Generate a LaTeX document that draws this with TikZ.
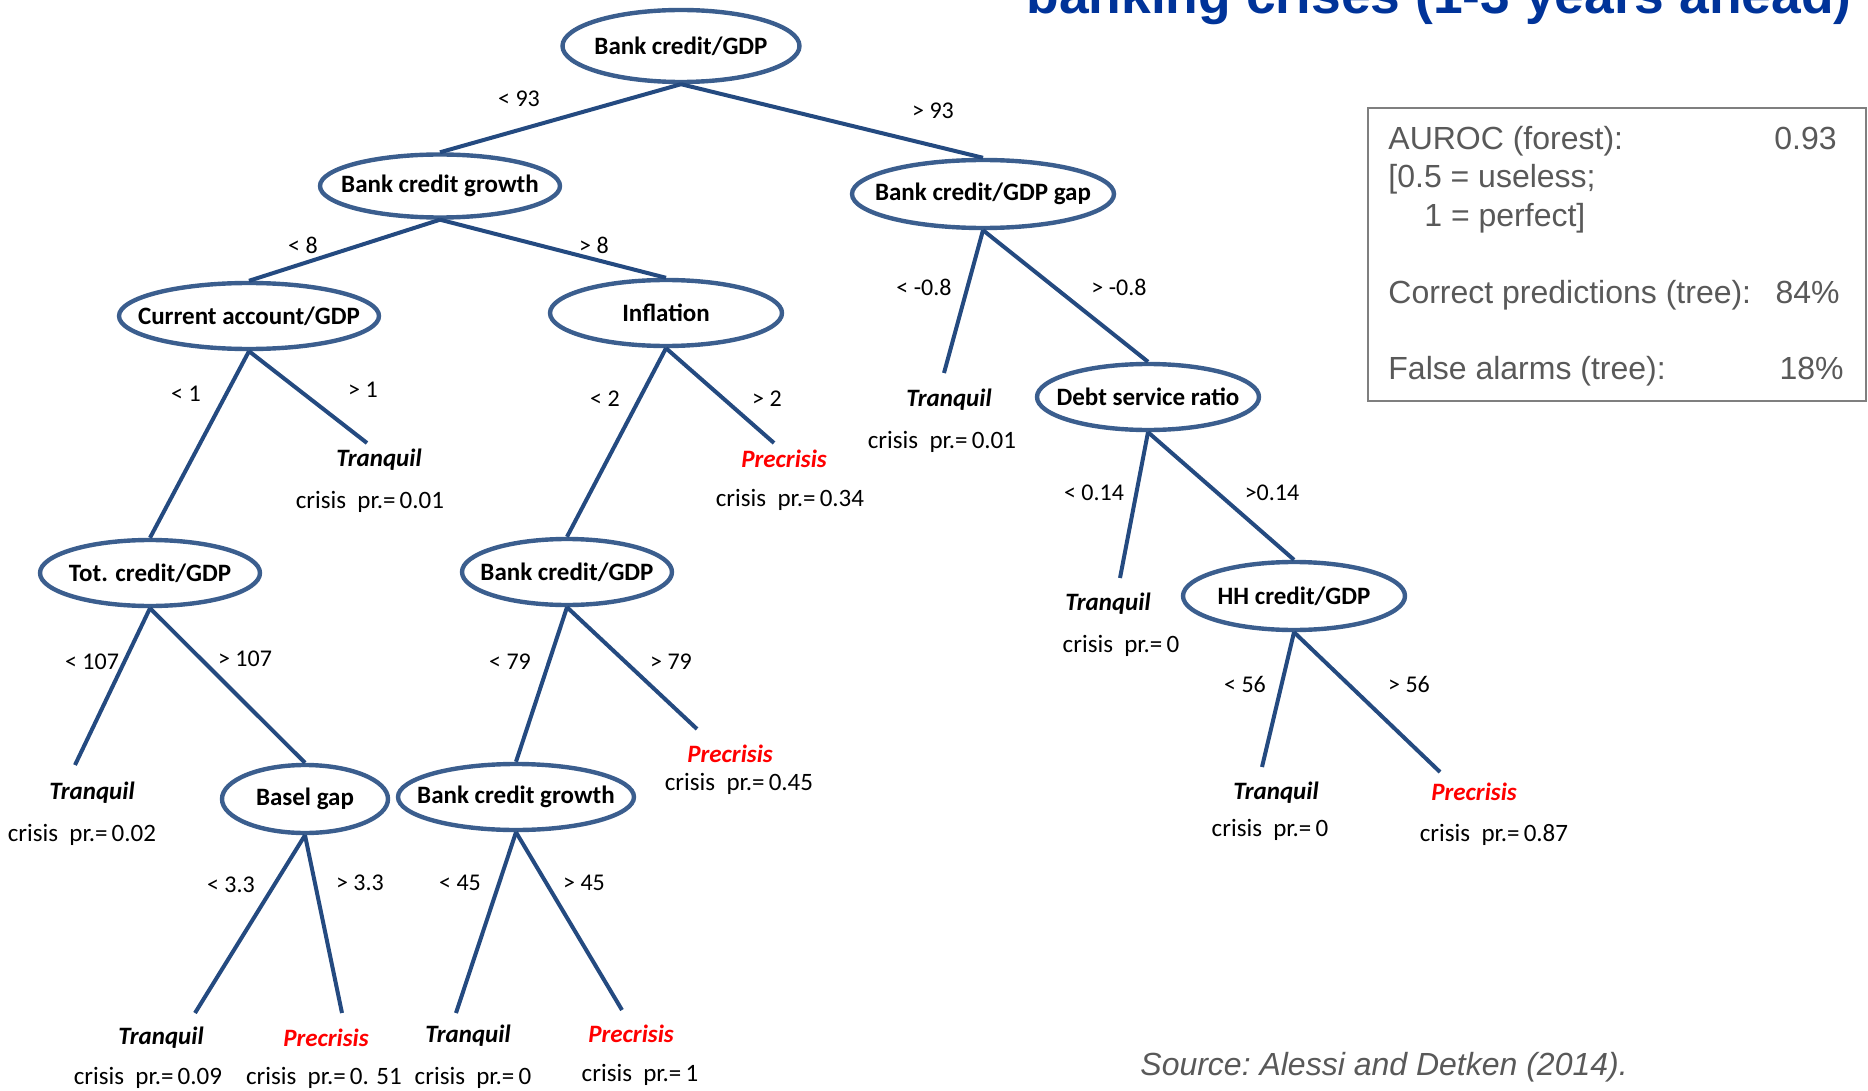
\documentclass[tikz,border=0pt]{standalone}
\usepackage{fontspec}
\setmainfont{Carlito}
\newfontfamily\arialfont{Liberation Sans}
\usetikzlibrary{shapes.geometric}
\definecolor{edgeblue}{HTML}{244A80}
\definecolor{ellblue}{HTML}{3B5E8E}
\definecolor{titleblue}{HTML}{003399}
\definecolor{boxgray}{HTML}{595959}
\definecolor{framegray}{HTML}{7F7F7F}
\newcommand{\zb}[1]{\makebox[0pt]{#1}}
\begin{document}
\begin{tikzpicture}[x=0.5pt,y=-0.5pt,
  var/.style={ellipse, draw=ellblue, line width=2.2pt, inner sep=0pt, font=\fontsize{12.5}{14}\selectfont\bfseries},
  br/.style={draw=edgeblue, line width=2pt},
  cond/.style={font=\fontsize{12}{14}\selectfont, inner sep=0pt},
  tq/.style={font=\fontsize{12.5}{14}\selectfont\bfseries\itshape, inner sep=0pt},
  pc/.style={tq, text=red},
  prob/.style={font=\fontsize{12.5}{14}\selectfont, inner sep=0pt},
  info/.style={font=\arialfont\fontsize{16}{19}\selectfont, text=boxgray, inner sep=0pt}
]
\useasboundingbox (0,0) rectangle (1868,1091);

% title (clipped at top)
\node[anchor=base east, inner sep=0pt, font=\arialfont\bfseries\fontsize{26.7}{30}\selectfont, text=titleblue] (title) at (1852,14) {banking crises (1-3 years ahead)};

% variable nodes
\node[var, minimum width=118.5pt, minimum height=36pt] (root) at (681,46) {\zb{Bank credit/GDP}};
\node[var, minimum width=120pt, minimum height=31.5pt] (bcg2) at (440,186) {\zb{Bank credit growth}};
\node[var, minimum width=131pt, minimum height=34pt] (gap) at (983,194) {\zb{Bank credit/GDP gap}};
\node[var, minimum width=130pt, minimum height=33pt] (ca) at (249,316) {\zb{Current account/GDP}};
\node[var, minimum width=116pt, minimum height=33pt] (infl) at (666,313) {\zb{Inflation}};
\node[var, minimum width=111pt, minimum height=33pt] (dsr) at (1148,397) {\zb{Debt service ratio}};
\node[var, minimum width=111pt, minimum height=34pt] (hh) at (1294,596) {\zb{HH credit/GDP}};
\node[var, minimum width=110pt, minimum height=33pt] (tot) at (150,573) {\zb{Tot. credit/GDP}};
\node[var, minimum width=105pt, minimum height=33pt] (bcgdp4) at (567,572) {\zb{Bank credit/GDP}};
\node[var, minimum width=83pt, minimum height=34pt] (basel) at (305,799) {\zb{Basel gap}};
\node[var, minimum width=118pt, minimum height=33pt] (bcg5) at (516,797) {\zb{Bank credit growth}};

% leaf end points
\coordinate (eCA) at (367,443);
\coordinate (eIN) at (774,443);
\coordinate (eGP) at (944,373);
\coordinate (eDS) at (1120,578);
\coordinate (eHa) at (1262,767);
\coordinate (eHb) at (1440,772);
\coordinate (eTO) at (75,765);
\coordinate (eBG) at (697,729);
\coordinate (eBa) at (195,1013);
\coordinate (eBb) at (342,1013);
\coordinate (eCa) at (456,1013);
\coordinate (eCb) at (622,1010);

% branches
\draw[br] (root.south) -- (bcg2.north);
\draw[br] (root.south) -- (gap.north);
\draw[br] (bcg2.south) -- (ca.north);
\draw[br] (bcg2.south) -- (infl.north);
\draw[br] (gap.south) -- (eGP);
\draw[br] (gap.south) -- (dsr.north);
\draw[br] (ca.south) -- (tot.north);
\draw[br] (ca.south) -- (eCA);
\draw[br] (infl.south) -- (bcgdp4.north);
\draw[br] (infl.south) -- (eIN);
\draw[br] (dsr.south) -- (eDS);
\draw[br] (dsr.south) -- (hh.north);
\draw[br] (hh.south) -- (eHa);
\draw[br] (hh.south) -- (eHb);
\draw[br] (tot.south) -- (eTO);
\draw[br] (tot.south) -- (basel.north);
\draw[br] (bcgdp4.south) -- (bcg5.north);
\draw[br] (bcgdp4.south) -- (eBG);
\draw[br] (basel.south) -- (eBa);
\draw[br] (basel.south) -- (eBb);
\draw[br] (bcg5.south) -- (eCa);
\draw[br] (bcg5.south) -- (eCb);

% conditions
\node[cond] (c1) at (519,99) {< 93};
\node[cond] (c2) at (933,111) {> 93};
\node[cond] (c3) at (303,245) {< 8};
\node[cond] (c4) at (594,245) {> 8};
\node[cond] (c5) at (924,287) {< -0.8};
\node[cond] (c6) at (1119,287) {> -0.8};
\node[cond] (c7) at (186,394) {< 1};
\node[cond] (c8) at (363,390) {> 1};
\node[cond] (c9) at (605,399) {< 2};
\node[cond] (c10) at (767,399) {> 2};
\node[cond] (c11) at (1094,493) {< 0.14};
\node[cond] (c12) at (1272,493) {>0.14};
\node[cond] (c13) at (1245,684) {< 56};
\node[cond] (c14) at (1409,684) {> 56};
\node[cond] (c15) at (92,662) {< 107};
\node[cond] (c16) at (245,659) {> 107};
\node[cond] (c17) at (510,662) {< 79};
\node[cond] (c18) at (671,662) {> 79};
\node[cond] (c19) at (231,885) {< 3.3};
\node[cond] (c20) at (360,883) {> 3.3};
\node[cond] (c21) at (460,883) {< 45};
\node[cond] (c22) at (584,883) {> 45};

% leaves
\node[tq] (t1) at (379,460) {Tranquil};
\node[prob] (p1) at (370,502) {crisis\ \ pr.=\,0.01};
\node[pc] (t2) at (784,459) {Precrisis};
\node[prob] (p2) at (790,500) {crisis\ \ pr.=\,0.34};
\node[tq] (t3) at (949,400) {Tranquil};
\node[prob] (p3) at (942,442) {crisis\ \ pr.=\,0.01};
\node[tq] (t4) at (1108,604) {Tranquil};
\node[prob] (p4) at (1121,646) {crisis\ \ pr.=\,0};
\node[tq] (t5) at (1276,793) {Tranquil};
\node[prob] (p5) at (1270,830) {crisis\ \ pr.=\,0};
\node[pc] (t6) at (1474,792) {Precrisis};
\node[prob] (p6) at (1494,835) {crisis\ \ pr.=\,0.87};
\node[tq] (t7) at (92,793) {Tranquil};
\node[prob] (p7) at (82,835) {crisis\ \ pr.=\,0.02};
\node[pc] (t8) at (730,754) {Precrisis};
\node[prob] (p8) at (739,784) {crisis\ \ pr.=\,0.45};
\node[tq] (t9) at (161,1038) {Tranquil};
\node[prob] (p9) at (148,1078) {crisis\ \ pr.=\,0.09};
\node[pc] (t10) at (326,1038) {Precrisis};
\node[prob] (p10) at (324,1078) {crisis\ \ pr.=\,0. 51};
\node[tq] (t11) at (468,1036) {Tranquil};
\node[prob] (p11) at (473,1078) {crisis\ \ pr.=\,0};
\node[pc] (t12) at (631,1034) {Precrisis};
\node[prob] (p12) at (640,1075) {crisis\ \ pr.=\,1};

% info box
\node[draw=framegray, line width=1pt, minimum width=249pt, minimum height=146pt, inner sep=0pt] (box) at (1617,254.5) {};
\node[info, anchor=base west] (i1) at (1388,150) {AUROC (forest):};
\node[info, anchor=base east] (i1v) at (1837,150) {0.93};
\node[info, anchor=base west] (i2) at (1388,188) {[0.5 = useless;};
\node[info, anchor=base west] (i3) at (1424,227) {1 = perfect]};
\node[info, anchor=base west] (i4) at (1388,303) {Correct predictions (tree):};
\node[info, anchor=base east] (i4v) at (1840,303) {84\%};
\node[info, anchor=base west] (i5) at (1388,379) {False alarms (tree):};
\node[info, anchor=base east] (i5v) at (1844,379) {18\%};

% source
\node[anchor=base west, inner sep=0pt, font=\arialfont\itshape\fontsize{16}{19}\selectfont\frenchspacing, text=boxgray] (src) at (1140,1075) {Source: Alessi and Detken (2014).};
\end{tikzpicture}
\end{document}
